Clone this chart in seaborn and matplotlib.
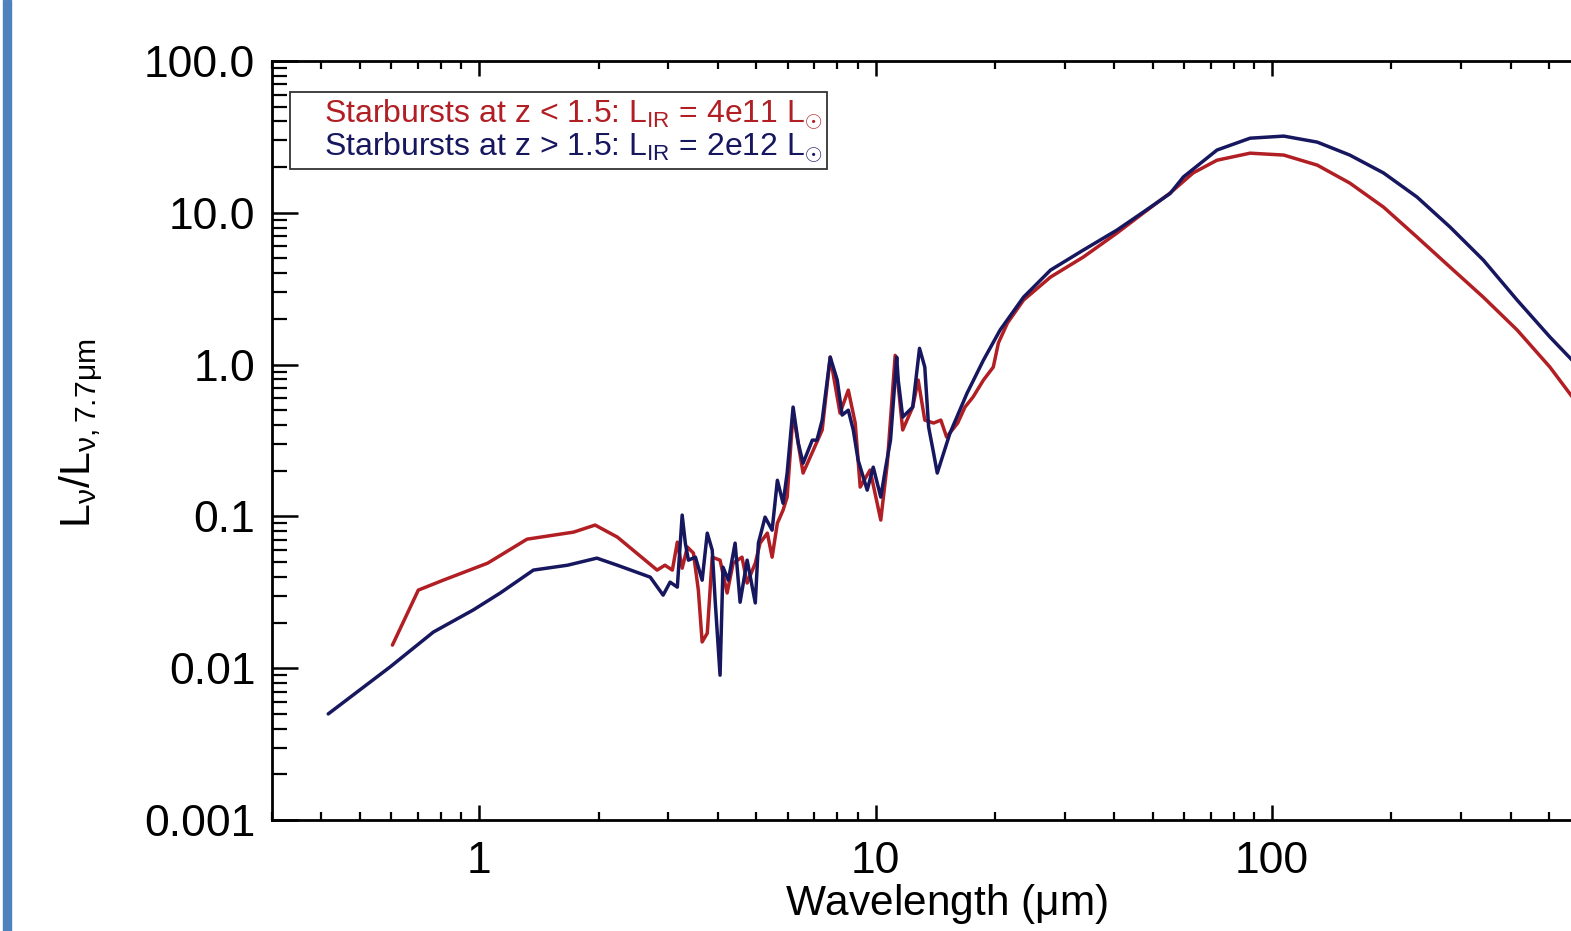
import numpy as np
import pandas as pd
import matplotlib
matplotlib.use('Agg')
import matplotlib.pyplot as plt
import matplotlib.ticker as ticker
from matplotlib.lines import Line2D
from matplotlib.patches import Rectangle
import seaborn as sns

# wavelength (um) and L_nu / L_nu(7.7um)
red_wl = [0.604, 0.702, 0.811, 1.05, 1.32, 1.73, 1.96, 2.23, 2.81, 2.94,
          3.07, 3.16, 3.25, 3.35, 3.47, 3.57, 3.65, 3.76, 3.87, 4.05,
          4.22, 4.37, 4.60, 4.74, 4.97, 5.11, 5.33, 5.48, 5.65, 5.84,
          5.98, 6.19, 6.56, 6.96, 7.33, 7.68, 8.13, 8.53, 8.88, 9.14,
          9.68, 10.3, 10.7, 11.2, 11.7, 12.4, 12.8, 13.3, 14.0, 14.6,
          15.1, 16.1, 16.8, 17.6, 18.7, 19.8, 20.4, 21.5, 23.6, 27.6,
          33.4, 40.6, 47.3, 55.3, 63.2, 72.6, 88.0, 107, 130, 157,
          191, 232, 281, 341, 415, 502, 575]
red_lum = [0.0142, 0.0327, 0.038, 0.0492, 0.0708, 0.0788, 0.0877, 0.0731, 0.0443, 0.0477,
           0.0443, 0.0677, 0.0456, 0.0628, 0.0573, 0.0327, 0.0149, 0.0170, 0.0539, 0.0515,
           0.0313, 0.0492, 0.0539, 0.0364, 0.0492, 0.0667, 0.0776, 0.0539, 0.0903, 0.110,
           0.134, 0.479, 0.193, 0.273, 0.371, 1.12, 0.479, 0.679, 0.412, 0.156,
           0.202, 0.0946, 0.224, 1.15, 0.371, 0.525, 0.791, 0.431, 0.412, 0.431,
           0.333, 0.412, 0.525, 0.611, 0.791, 0.963, 1.39, 1.88, 2.66, 3.77,
           5.11, 7.35, 9.95, 13.5, 18.3, 22.2, 24.7, 24.0, 20.6, 15.7,
           10.9, 6.92, 4.39, 2.78, 1.69, 0.963, 0.60]

blue_wl = [0.416, 0.596, 0.766, 0.966, 1.13, 1.37, 1.48, 1.67, 1.98, 2.23,
           2.70, 2.91, 3.03, 3.16, 3.25, 3.31, 3.37, 3.51, 3.65, 3.76,
           3.87, 3.94, 4.05, 4.12, 4.25, 4.42, 4.55, 4.74, 4.97, 5.06,
           5.26, 5.48, 5.65, 5.84, 5.98, 6.19, 6.38, 6.56, 6.92, 7.11,
           7.33, 7.68, 8.00, 8.23, 8.53, 8.78, 9.03, 9.52, 9.86, 10.3,
           10.6, 10.9, 11.3, 11.4, 11.7, 12.4, 12.9, 13.3, 13.6, 14.0,
           14.3, 15.4, 17.0, 18.7, 20.6, 23.6, 27.6, 33.4, 40.6, 47.3,
           55.3, 59.7, 72.6, 88.0, 107, 130, 157, 191, 232, 281,
           341, 415, 502, 575]
blue_lum = [0.0050, 0.0102, 0.0173, 0.0242, 0.0313, 0.0443, 0.0456, 0.0477, 0.0531, 0.0477,
            0.0398, 0.0303, 0.0369, 0.0342, 0.102, 0.0667, 0.0515, 0.0539, 0.038, 0.0776,
            0.060, 0.0269, 0.0090, 0.0463, 0.038, 0.0667, 0.0272, 0.0515, 0.0269, 0.0667,
            0.0989, 0.0812, 0.173, 0.122, 0.193, 0.525, 0.304, 0.224, 0.318, 0.318,
            0.431, 1.12, 0.791, 0.465, 0.501, 0.371, 0.235, 0.149, 0.211, 0.134,
            0.211, 0.318, 1.12, 0.791, 0.451, 0.525, 1.28, 0.964, 0.388, 0.261,
            0.193, 0.354, 0.648, 1.07, 1.69, 2.78, 4.19, 5.68, 7.69, 10.1,
            13.4, 17.2, 25.9, 31.0, 32.0, 29.2, 24.0, 18.3, 12.7, 8.06,
            4.88, 2.66, 1.52, 1.05]

red_label = r'Starbursts at z < 1.5: L$_{\rm IR}$ = 4e11 L$_{\odot}$'
blue_label = r'Starbursts at z > 1.5: L$_{\rm IR}$ = 2e12 L$_{\odot}$'
red_col = '#b11f24'
blue_col = '#17175f'

y_ticks = [0.001, 0.01, 0.1, 1, 10, 100]
y_labels = ['0.001', '0.01', '0.1', '1.0', '10.0', '100.0']
x_ticks = [1, 10, 100]
x_labels = ['1', '10', '100']

df_red = pd.DataFrame({'wl': red_wl, 'lum': red_lum})
df_blue = pd.DataFrame({'wl': blue_wl, 'lum': blue_lum})

sns.set_style('white')
plt.rcParams['font.family'] = ['Liberation Sans', 'DejaVu Sans']
plt.rcParams['mathtext.fontset'] = 'custom'
plt.rcParams['mathtext.rm'] = 'Liberation Sans'
plt.rcParams['mathtext.it'] = 'Liberation Sans'
for k in ['text.color', 'axes.labelcolor', 'xtick.color', 'ytick.color']:
    plt.rcParams[k] = 'black'

fig = plt.figure(figsize=(15.71, 9.31), dpi=100)
ax = fig.add_axes([0.1731, 0.1192, 0.889, 0.8153])

sns.lineplot(data=df_red, x='wl', y='lum', color=red_col, lw=2.5, sort=False, estimator=None, ax=ax)
sns.lineplot(data=df_blue, x='wl', y='lum', color=blue_col, lw=2.5, sort=False, estimator=None, ax=ax)

ax.set_xscale('log')
ax.set_yscale('log')
ax.set_xlim(0.3, 1000)
ax.set_ylim(0.001, 100)

ax.set_yticks(y_ticks)
ax.set_yticklabels(y_labels)
ax.set_xticks(x_ticks)
ax.set_xticklabels(x_labels)
ax.xaxis.set_minor_locator(ticker.LogLocator(base=10, subs=np.arange(2, 10)))
ax.yaxis.set_minor_locator(ticker.LogLocator(base=10, subs=np.arange(2, 10)))
ax.xaxis.set_minor_formatter(ticker.NullFormatter())
ax.yaxis.set_minor_formatter(ticker.NullFormatter())

for s in ax.spines.values():
    s.set_linewidth(2.0)
    s.set_color('black')
ax.spines['right'].set_visible(False)

ax.tick_params(axis='x', which='major', direction='in', length=11, width=1.8, top=True, bottom=True,
               labelsize=32, pad=15)
ax.tick_params(axis='x', which='minor', direction='in', length=6, width=1.6, top=True, bottom=True)
ax.tick_params(axis='y', which='major', direction='in', length=19, width=1.8, left=True, right=False,
               labelsize=32, pad=12)
ax.tick_params(axis='y', which='minor', direction='in', length=11, width=1.6, left=True, right=False)

ax.set_xlabel(r'Wavelength ($\mu$m)', fontsize=30.5)
ax.xaxis.set_label_coords(0.4826, -0.081)
ax.xaxis.label.set_va('top')
ax.set_ylabel(r'L$_{\nu}$/L$_{\nu,7.7\mu m}$', fontsize=31)
ax.yaxis.set_label_coords(-0.119, 0.509)

handles = [Line2D([], [], linestyle='none', color=red_col),
           Line2D([], [], linestyle='none', color=blue_col)]
leg = ax.legend(handles, [red_label, blue_label], loc='upper left', bbox_to_anchor=(0.013, 0.959),
                borderaxespad=0, fontsize=23, frameon=True, fancybox=False, handlelength=0.6,
                handletextpad=0.3, borderpad=0.15, labelspacing=0.0)
leg.get_frame().set_edgecolor('black')
leg.get_frame().set_linewidth(1.3)
for txt, c in zip(leg.get_texts(), [red_col, blue_col]):
    txt.set_color(c)

# slide border on the left
fig.patches.append(Rectangle((0.002, 0), 0.005, 1, transform=fig.transFigure,
                             color='#4f81bd', zorder=5))

fig.savefig('out.png', dpi=100)
